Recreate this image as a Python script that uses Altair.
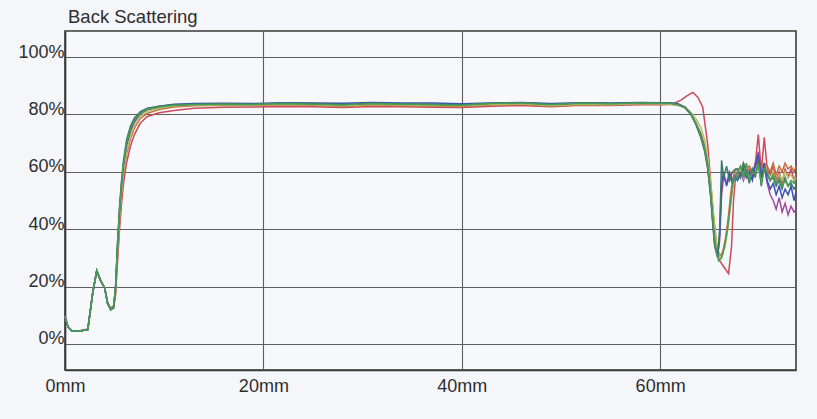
import altair as alt
import pandas as pd

# Back-scattering profiles (%) along the sample height (mm), one trace per scan
SERIES = ["red", "orange", "purple", "olive", "blue", "teal", "green"]
COLORS = ["#cc4a5c", "#c2703e", "#a04aa2", "#b9c061", "#3b52b0", "#3a7a68", "#4a9a58"]

# Bottom of the tube and the steep rise
LEFT_X = [0, 0.3, 0.7, 1.5, 2.3, 2.8, 3.2, 3.6, 4.0, 4.3, 4.6, 4.9, 5.1, 5.3, 5.5,
          5.7, 5.9, 6.2, 6.6, 7.0, 7.6, 8.3, 9.5, 11.0]
LEFT_Y = {
    "green":  [9.5, 6.0, 4.5, 4.5, 5.0, 18.0, 25.5, 22.0, 19.5, 14.0, 12.0, 13.0, 20.0, 35.0, 47.0,
               56.0, 63.0, 70.0, 75.0, 78.0, 80.5, 81.8, 82.6, 83.2],
    "teal":   [9.5, 6.0, 4.5, 4.5, 5.0, 18.0, 25.5, 22.0, 19.5, 14.0, 11.8, 12.5, 19.5, 35.5, 48.0,
               57.0, 64.0, 71.0, 76.0, 78.8, 81.0, 82.2, 82.9, 83.4],
    "blue":   [9.5, 6.0, 4.5, 4.5, 5.0, 18.0, 25.5, 22.0, 19.5, 14.0, 12.2, 13.0, 20.0, 34.5, 46.5,
               55.5, 62.5, 69.5, 74.8, 78.0, 80.6, 82.0, 82.9, 83.6],
    "purple": [9.5, 6.0, 4.5, 4.5, 5.0, 18.0, 25.5, 22.0, 19.5, 14.0, 12.3, 13.2, 19.0, 33.5, 45.5,
               54.5, 61.5, 68.5, 74.0, 77.3, 80.2, 81.6, 82.5, 83.3],
    "olive":  [9.5, 6.0, 4.5, 4.5, 5.0, 18.0, 25.5, 22.0, 19.5, 14.0, 12.5, 13.5, 18.5, 32.0, 44.0,
               53.0, 60.0, 67.0, 72.5, 76.0, 79.3, 81.0, 82.2, 83.0],
    "orange": [9.5, 6.0, 4.5, 4.5, 5.0, 18.0, 25.5, 22.0, 19.5, 14.0, 12.4, 13.0, 18.0, 31.0, 43.0,
               52.0, 59.0, 66.0, 71.5, 75.2, 78.6, 80.4, 81.7, 82.6],
    "red":    [9.8, 6.0, 4.5, 4.6, 5.2, 18.0, 25.5, 22.0, 19.5, 14.5, 12.5, 12.5, 17.0, 29.0, 40.0,
               49.0, 56.0, 63.0, 69.0, 73.0, 77.0, 79.3, 80.6, 81.4],
}

# Stable middle zone
MID_X = [13, 16, 19, 22, 25, 28, 31, 34, 37, 40, 43, 46, 49, 52, 55, 58, 60]
MID_Y = {
    "green":  [83.4, 83.6, 83.5, 83.8, 83.6, 83.3, 83.8, 83.6, 83.4, 83.2, 83.8, 84.0, 83.4, 83.9, 83.7, 84.0, 83.9],
    "teal":   [83.6, 83.7, 83.6, 83.9, 83.8, 83.5, 83.9, 83.7, 83.6, 83.4, 83.9, 84.1, 83.6, 84.0, 83.8, 84.1, 84.0],
    "blue":   [83.8, 83.9, 83.8, 84.1, 84.0, 83.9, 84.2, 84.0, 84.0, 83.7, 84.0, 84.2, 83.8, 84.1, 84.0, 84.2, 84.1],
    "purple": [83.5, 83.6, 83.5, 83.8, 83.7, 83.4, 83.8, 83.5, 83.4, 83.3, 83.7, 83.9, 83.4, 83.8, 83.6, 83.9, 83.8],
    "olive":  [83.2, 83.4, 83.3, 83.6, 83.4, 83.0, 83.5, 83.3, 83.1, 83.0, 83.5, 83.7, 83.1, 83.6, 83.4, 83.8, 83.7],
    "orange": [83.0, 83.2, 83.1, 83.4, 83.2, 82.8, 83.3, 83.1, 82.9, 82.8, 83.3, 83.5, 82.9, 83.4, 83.3, 83.7, 83.6],
    "red":    [82.2, 82.5, 82.6, 82.8, 82.7, 82.4, 82.8, 82.7, 82.5, 82.4, 82.9, 83.1, 82.7, 83.2, 83.1, 83.4, 83.4],
}

# Drop at the top of the sample
DROP_X = {
    "green":  [61.0, 61.8, 62.5, 63.1, 63.6, 64.1, 64.5, 64.8, 65.1, 65.3, 65.6, 65.9, 66.2, 66.5, 66.8, 67.0, 67.2, 67.4, 67.6],
    "olive":  [61.0, 61.8, 62.5, 63.1, 63.6, 64.1, 64.5, 64.8, 65.1, 65.4, 65.7, 66.0, 66.3, 66.6, 66.9, 67.1, 67.3, 67.5, 67.6],
    "orange": [61.0, 61.8, 62.5, 63.1, 63.6, 64.1, 64.5, 64.8, 65.1, 65.4, 65.7, 66.0, 66.3, 66.6, 66.9, 67.1, 67.3, 67.5, 67.6],
    "teal":   [61.0, 61.8, 62.5, 63.1, 63.6, 64.1, 64.5, 64.8, 65.1, 65.3, 65.5, 65.8, 66.0, 66.2, 66.4, 66.7, 67.0, 67.3, 67.6],
    "blue":   [61.0, 61.8, 62.5, 63.1, 63.6, 64.1, 64.5, 64.8, 65.1, 65.3, 65.5, 65.8, 66.0, 66.2, 66.4, 66.7, 67.0, 67.3, 67.6],
    "purple": [61.0, 61.8, 62.5, 63.1, 63.6, 64.1, 64.5, 64.8, 65.1, 65.3, 65.5, 65.8, 66.0, 66.2, 66.4, 66.7, 67.0, 67.3, 67.6],
    "red":    [61.0, 61.5, 62.1, 62.7, 63.3, 63.8, 64.3, 64.8, 65.3, 65.6, 66.0, 66.4, 66.9, 67.2, 67.4, 67.6],
}
DROP_Y = {
    "green":  [83.8, 83.4, 82.4, 80.0, 77.0, 73.0, 68.0, 62.5, 53.0, 44.0, 33.0, 29.0, 30.0, 34.0, 40.0, 46.0, 52.0, 58.0, 57.0],
    "olive":  [83.6, 83.3, 82.6, 80.8, 78.5, 75.5, 71.0, 65.0, 56.0, 45.0, 34.0, 30.0, 31.0, 35.0, 42.0, 48.0, 54.0, 57.0, 58.0],
    "orange": [83.6, 83.2, 82.3, 80.0, 77.0, 73.5, 69.0, 63.0, 54.0, 44.0, 35.0, 30.5, 32.0, 37.0, 45.0, 52.0, 57.0, 60.0, 60.5],
    "teal":   [84.0, 83.6, 82.5, 80.0, 76.5, 72.0, 67.0, 61.0, 51.0, 42.0, 34.0, 30.0, 40.0, 64.0, 58.0, 62.0, 57.0, 60.0, 61.0],
    "blue":   [84.1, 83.7, 82.6, 80.2, 76.8, 72.5, 67.5, 61.5, 52.0, 43.0, 35.0, 30.5, 38.0, 56.0, 60.0, 55.0, 59.0, 56.0, 58.0],
    "purple": [83.8, 83.5, 82.5, 80.3, 77.0, 73.0, 68.0, 62.0, 52.5, 43.5, 35.5, 31.0, 36.0, 52.0, 58.0, 56.0, 60.0, 57.0, 59.0],
    "red":    [83.5, 84.0, 85.0, 86.5, 87.7, 86.0, 82.5, 69.5, 48.0, 34.0, 29.0, 27.0, 24.5, 34.0, 50.0, 58.0],
}

# Noisy zone above the sample
TAIL_X = [67.8, 68.1, 68.4, 68.7, 69.0, 69.3, 69.6, 69.9, 70.2, 70.5, 70.8, 71.1, 71.4,
          71.7, 72.0, 72.3, 72.6, 72.9, 73.2, 73.5, 73.7]
TAIL_Y = {
    "green":  [60, 62, 58, 63, 57, 60, 59, 63, 56, 61, 60, 57, 59, 56, 58, 55, 57, 55, 57, 56, 57],
    "teal":   [61, 58, 63, 60, 56, 61, 58, 64, 55, 62, 59, 57, 58, 55, 57, 54, 58, 55, 56, 54, 55],
    "blue":   [57, 59, 61, 58, 60, 57, 62, 66, 58, 63, 57, 54, 56, 52, 55, 51, 54, 52, 55, 50, 53],
    "purple": [58, 60, 57, 61, 59, 58, 63, 67, 57, 62, 56, 52, 50, 47, 51, 46, 49, 45, 48, 46, 47],
    "red":    [60, 59, 62, 60, 61, 59, 63, 73, 60, 72, 61, 59, 62, 57, 60, 56, 61, 58, 61, 57, 59],
    "orange": [61, 60, 63, 61, 62, 60, 62, 64, 61, 63, 62, 60, 63, 59, 62, 60, 63, 61, 62, 60, 62],
    "olive":  [59, 61, 58, 62, 58, 60, 59, 62, 57, 61, 59, 57, 60, 56, 59, 57, 60, 58, 59, 57, 58],
}

rows = []
for order, name in enumerate(SERIES):
    xs = LEFT_X + MID_X + DROP_X[name] + TAIL_X
    ys = LEFT_Y[name] + MID_Y[name] + DROP_Y[name] + TAIL_Y[name]
    for x, y in zip(xs, ys):
        rows.append({"scan": name, "k": order, "mm": x, "bs": y})
df = pd.DataFrame(rows)

FONT = "Liberation Sans"
INK = "#2e2e2e"

chart = (
    alt.Chart(df, title=alt.TitleParams(
        "Back Scattering", anchor="start", frame="group", font=FONT, fontSize=18.5,
        fontWeight="normal", color=INK, offset=5, dx=3))
    .mark_line(strokeWidth=1.5, interpolate="linear")
    .encode(
        x=alt.X("mm:Q", scale=alt.Scale(domain=[0, 73.7], nice=False, zero=False),
                axis=alt.Axis(values=[0, 20, 40, 60], labelExpr="datum.value + 'mm'",
                              title=None, grid=True, tickSize=0, labelPadding=7,
                              labelAlign="center", labelBaseline="top")),
        y=alt.Y("bs:Q", scale=alt.Scale(domain=[-9.1, 109.1], nice=False, zero=False),
                axis=alt.Axis(values=[0, 20, 40, 60, 80, 100], labelExpr="datum.value + '%'",
                              title=None, grid=True, tickSize=0, labelPadding=1,
                              labelAlign="right", labelBaseline="alphabetic")),
        color=alt.Color("scan:N", scale=alt.Scale(domain=SERIES, range=COLORS), legend=None),
        detail="scan:N",
        order=alt.Order("k:Q"),
    )
    .properties(
        width=731, height=339,
        autosize=alt.AutoSizeParams(type="none"),
        padding={"left": 65, "top": 31, "right": 21, "bottom": 49},
        background="#f5f6fa",
    )
    .configure_view(stroke="#3a3a3a", strokeWidth=1.6, fill="#f7f8fb")
    .configure_axis(
        labelFont=FONT, labelFontSize=18, labelColor=INK,
        gridColor="#5e5e5e", gridWidth=1.1, gridOpacity=1,
        domainColor="#3a3a3a", domainWidth=1.6,
    )
)

chart.save("out.html", embed_options={"renderer": "svg", "actions": False})
